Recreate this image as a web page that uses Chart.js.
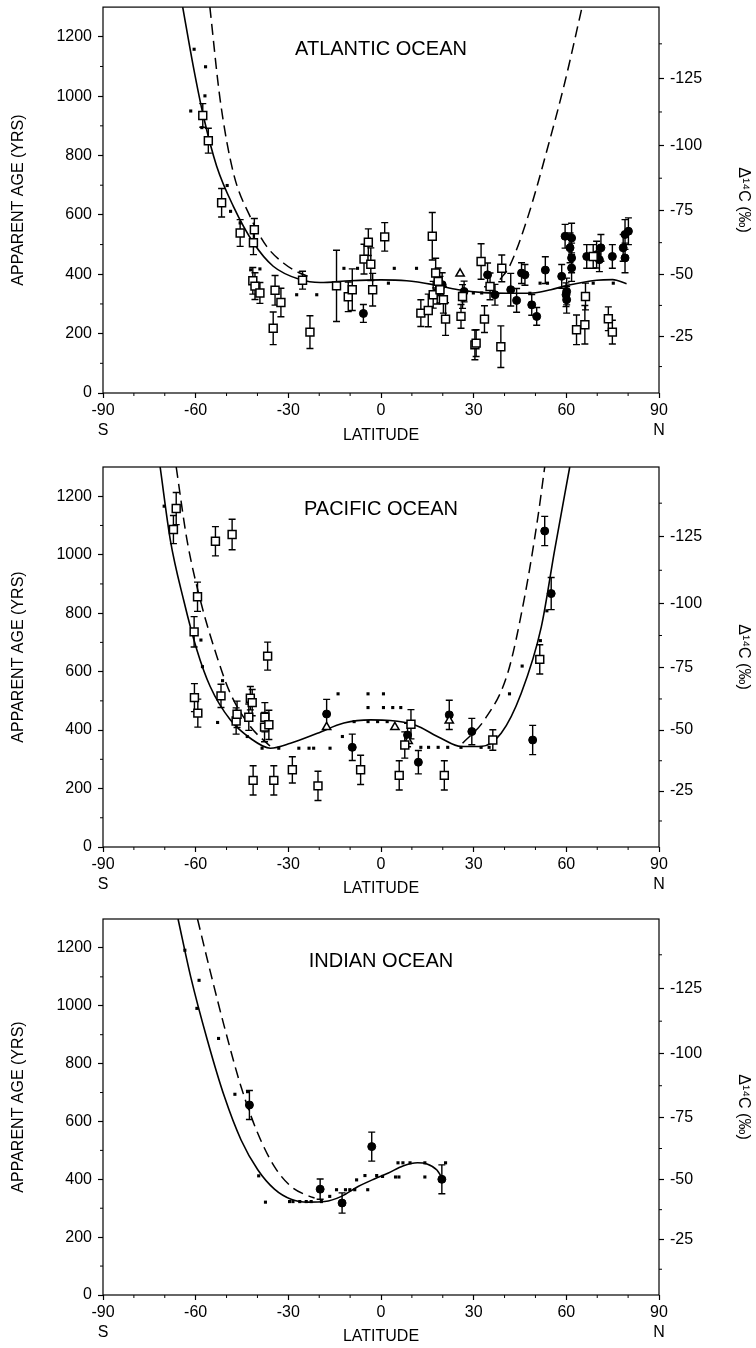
<!DOCTYPE html>
<html>
<head>
<meta charset="utf-8">
<title>Apparent age vs latitude</title>
<script src="https://cdn.jsdelivr.net/npm/chart.js@4.4.1/dist/chart.umd.min.js"></script>
<style>
    body { margin: 0; background: #fff; width: 756px; height: 1348px; position: relative; overflow: hidden; }
    canvas { position: absolute; left: 0; }
</style>
</head>
<body>
<canvas id="atlantic" width="756" height="455" style="top:0"></canvas>
<canvas id="pacific" width="756" height="450" style="top:455px"></canvas>
<canvas id="indian" width="756" height="443" style="top:905px"></canvas>
<script>
// axis ticks
const xTicks = [-90, -60, -30, 0, 30, 60, 90];
const xTickLabels = [['-90', 'S'], '-60', '-30', '0', '30', '60', ['90', 'N']];
const xMinorTicks = [-80, -70, -50, -40, -20, -10, 10, 20, 40, 50, 70, 80];
const ageTicks = [0, 200, 400, 600, 800, 1000, 1200];
const ageMinorTicks = [100, 300, 500, 700, 900, 1100];
const deltaTicks = [-25, -50, -75, -100, -125];
const deltaMinorTicks = [-12.5, -37.5, -62.5, -87.5, -112.5, -137.5];

// Atlantic: [latitude, age, error]
const atlSquares = [
    [-57.7, 935, 40], [-55.9, 850, 42], [-51.6, 641, 48], [-45.6, 539, 45], [-41.0, 550, 38],
    [-41.3, 506, 40], [-41.5, 378, 45], [-40.8, 360, 45], [-39.2, 337, 35], [-34.3, 346, 50],
    [-32.4, 305, 48], [-34.9, 218, 55], [-25.4, 380, 30], [-23.0, 205, 55], [-14.4, 361, 120],
    [-10.6, 324, 50], [-9.3, 348, 70], [-5.5, 451, 50], [-4.1, 508, 45], [-3.3, 434, 55],
    [-2.7, 348, 55], [1.2, 526, 48], [12.9, 269, 45], [15.3, 278, 55], [16.6, 528, 80],
    [16.9, 331, 45], [17.7, 404, 50], [18.5, 376, 45], [19.1, 348, 45], [20.2, 314, 45],
    [20.9, 249, 55], [25.9, 258, 40], [26.4, 325, 40], [30.4, 162, 50], [30.8, 168, 45],
    [32.4, 443, 60], [33.5, 249, 45], [35.3, 359, 45], [38.8, 156, 70], [39.1, 420, 45],
    [63.3, 213, 50], [66.0, 230, 65], [66.2, 325, 45], [68.7, 460, 40], [73.6, 250, 40],
    [74.9, 205, 40]
];
const atlCircles = [
    [-5.7, 268, 30], [18.2, 340, 40], [19.8, 365, 40], [26.9, 342, 35], [34.5, 398, 40],
    [36.9, 331, 35], [42.0, 348, 55], [43.9, 312, 40], [45.5, 404, 35], [46.6, 398, 35],
    [48.8, 297, 35], [50.4, 258, 30], [53.2, 414, 45], [58.5, 393, 40], [59.6, 528, 40],
    [59.9, 331, 40], [60.1, 342, 45], [60.1, 314, 45], [61.2, 489, 50], [61.7, 522, 50],
    [61.7, 455, 50], [61.7, 421, 45], [66.6, 460, 40], [69.8, 466, 45], [70.7, 449, 40],
    [71.2, 489, 45], [74.9, 460, 40], [78.4, 489, 45], [79.0, 534, 50], [79.0, 455, 50],
    [80.1, 545, 45]
];
const atlTriangles = [[25.6, 402]];
const atlDots = [
    [-61.6, 950], [-60.5, 1158], [-58.0, 894], [-57.0, 1001], [-56.8, 1099], [-49.8, 699],
    [-48.7, 612], [-45.6, 573], [-42.2, 415], [-39.2, 418], [-27.3, 331], [-20.8, 331],
    [-12.0, 420], [-7.6, 420], [2.4, 370], [4.3, 420], [11.5, 420], [29.9, 337], [32.6, 337],
    [48.2, 336], [51.5, 370], [53.9, 370], [68.7, 370], [75.2, 370]
];
const atlSolid = [
    [-64.2, 1300], [-60.8, 1102], [-57.5, 933], [-53.2, 764], [-47.8, 629], [-41.3, 506],
    [-34.9, 427], [-26.2, 382], [-19.7, 372], [-10, 378], [0, 381], [8.3, 378], [16.9, 365],
    [25, 348], [33.1, 338], [41, 336], [49.2, 337], [55, 348], [60.1, 362], [69.8, 380],
    [75, 382], [79.5, 368]
];
const atlDashedS = [[-55.4, 1300], [-52.1, 990], [-47.8, 742], [-42.4, 595], [-37.0, 494], [-31.6, 438], [-26.5, 405], [-21.9, 387]];
const atlDashedN = [[38.5, 382], [41.6, 427], [47.6, 595], [54.1, 832], [59.5, 1046], [65.1, 1300]];

// Pacific
const pacSquares = [
    [-67.2, 1086, 48], [-66.3, 1158, 55], [-60.5, 736, 52], [-60.4, 511, 48], [-59.4, 856, 50],
    [-59.3, 458, 48], [-53.6, 1046, 50], [-51.8, 517, 40], [-48.2, 1069, 52], [-46.9, 431, 45],
    [-46.6, 454, 45], [-42.8, 444, 45], [-42.3, 509, 40], [-41.7, 494, 45], [-41.4, 228, 50],
    [-37.7, 410, 50], [-37.6, 444, 50], [-36.7, 653, 48], [-36.3, 418, 50], [-34.7, 228, 50],
    [-28.7, 264, 45], [-20.4, 209, 50], [-6.6, 264, 50], [5.9, 245, 50], [7.7, 349, 45],
    [9.7, 420, 50], [20.5, 245, 50], [36.2, 366, 35], [51.4, 642, 50]
];
const pacCircles = [
    [-17.6, 455, 50], [-9.3, 341, 45], [8.6, 383, 40], [12.1, 290, 40], [22.1, 452, 50],
    [29.4, 395, 45], [49.1, 366, 50], [53.0, 1081, 50], [55.1, 867, 55]
];
const pacTriangles = [[-17.6, 410], [4.5, 410], [8.8, 362], [22.1, 432]];
const pacDots = [
    [-70.2, 1166], [-58.3, 708], [-57.8, 617], [-52.9, 426], [-51.3, 569], [-43.3, 378],
    [-38.5, 338], [-33.1, 338], [-26.6, 338], [-23.3, 338], [-21.8, 338], [-16.5, 338],
    [-13.9, 524], [-12.5, 378], [-8.7, 429], [-4.2, 524], [-4.2, 477], [-4.2, 429], [-1.1, 429],
    [0.8, 524], [0.8, 477], [2.0, 429], [3.8, 477], [6.4, 477], [12.9, 341], [15.4, 341],
    [18.5, 341], [21.6, 341], [25.9, 341], [32.4, 341], [35.0, 341], [41.6, 524], [45.7, 619],
    [51.6, 706], [53.7, 808]
];
const pacSolid = [
    [-71.5, 1300], [-68.2, 1050], [-63.9, 845], [-59.6, 674], [-55.3, 549], [-48.8, 435],
    [-42.3, 372], [-35.8, 338], [-29.3, 355], [-20.6, 389], [-12.0, 424], [-3.3, 435], [3, 433],
    [10.8, 418], [19.4, 372], [25.9, 344], [32.4, 344], [38.9, 389], [45.4, 526], [51.9, 753],
    [56.2, 1015], [61.1, 1300]
];
const pacDashedS = [[-66.3, 1300], [-62.8, 1050], [-58.5, 845], [-53.1, 651], [-48.8, 526], [-42.3, 412], [-35.8, 344]];
const pacDashedN = [[26.4, 355], [33.5, 435], [41.0, 594], [46.5, 856], [50.8, 1129], [53.0, 1300]];

// Indian
const indCircles = [[-42.6, 657, 50], [-19.7, 366, 35], [-12.6, 318, 35], [-3.0, 513, 50], [19.7, 400, 50]];
const indDots = [
    [-63.5, 1192], [-59.6, 991], [-58.9, 1088], [-52.6, 887], [-47.3, 694], [-43.2, 703],
    [-39.6, 412], [-37.4, 321], [-29.6, 323], [-28.5, 323], [-26.3, 323], [-24.2, 323],
    [-22.6, 323], [-19.3, 323], [-16.6, 341], [-14.4, 364], [-11.5, 364], [-10.1, 364],
    [-8.5, 364], [-7.9, 398], [-5.2, 413], [-4.3, 364], [-1.4, 413], [0.5, 410], [4.7, 408],
    [5.8, 408], [5.5, 457], [7.1, 457], [9.4, 457], [14.2, 457], [14.2, 408], [20.9, 457]
];
const indSolid = [
    [-65.7, 1300], [-61.6, 1100], [-56.2, 881], [-50.7, 686], [-45.3, 536], [-39.9, 433],
    [-34.5, 366], [-29.1, 331], [-23.6, 321], [-18.2, 323], [-12.8, 341], [-7.4, 375],
    [-2.0, 402], [2.4, 422], [7.1, 446], [11.8, 457], [14.9, 453], [18.1, 432], [20.0, 400]
];
const indDashed = [[-59.4, 1300], [-55.1, 1111], [-50.7, 927], [-45.3, 720], [-39.9, 559], [-34.5, 444], [-29.1, 375], [-23.1, 341], [-21.5, 335]];

const FONT = '"Liberation Sans", Arial, Helvetica, sans-serif';
Chart.defaults.font.family = FONT;
Chart.defaults.color = '#000';

// right axis: delta14C drawn at the matching apparent age
function deltaToAge(d) {
    return -8033 * Math.log(1 + d / 1000) - 12;
}

function toXY(arr) {
    return arr.map(p => ({ x: p[0], y: p[1] }));
}

// error bars under the markers
const errorBars = {
    id: 'errorBars',
    beforeDatasetsDraw(chart) {
        const ctx = chart.ctx;
        const y = chart.scales.y;
        ctx.save();
        ctx.strokeStyle = '#000';
        ctx.lineWidth = 1.4;
        chart.data.datasets.forEach((ds, i) => {
            if (!ds.errors) return;
            chart.getDatasetMeta(i).data.forEach((pt, j) => {
                const v = ds.data[j].y;
                const top = y.getPixelForValue(v + ds.errors[j]);
                const bot = y.getPixelForValue(v - ds.errors[j]);
                ctx.beginPath();
                ctx.moveTo(pt.x, top); ctx.lineTo(pt.x, bot);
                ctx.moveTo(pt.x - 3.5, top); ctx.lineTo(pt.x + 3.5, top);
                ctx.moveTo(pt.x - 3.5, bot); ctx.lineTo(pt.x + 3.5, bot);
                ctx.stroke();
            });
        });
        ctx.restore();
    }
};

// frame, minor ticks and the ocean name
const panelDecor = {
    id: 'panelDecor',
    afterDraw(chart, args, opts) {
        const { ctx, chartArea: a } = chart;
        const { x, y, y2 } = chart.scales;
        ctx.save();
        ctx.strokeStyle = '#000';
        ctx.lineWidth = 1.2;
        ctx.strokeRect(a.left, a.top, a.right - a.left, a.bottom - a.top);

        ctx.lineWidth = 1;
        ctx.beginPath();
        xMinorTicks.forEach(v => {
            const px = x.getPixelForValue(v);
            ctx.moveTo(px, a.bottom); ctx.lineTo(px, a.bottom + 3);
        });
        ageMinorTicks.forEach(v => {
            const py = y.getPixelForValue(v);
            ctx.moveTo(a.left, py); ctx.lineTo(a.left - 3, py);
        });
        deltaMinorTicks.forEach(d => {
            const py = y2.getPixelForValue(deltaToAge(d));
            ctx.moveTo(a.right, py); ctx.lineTo(a.right + 3, py);
        });
        ctx.stroke();

        ctx.fillStyle = '#000';
        ctx.font = '20px ' + FONT;
        ctx.textAlign = 'center';
        ctx.textBaseline = 'middle';
        ctx.fillText(opts.text, (a.left + a.right) / 2, a.top + 42);
        ctx.restore();
    }
};

function makePanel(id, p) {
    const datasets = [];
    if (p.squares) datasets.push({
        data: toXY(p.squares), errors: p.squares.map(s => s[2]),
        pointStyle: 'rect', pointRadius: 5.6, pointBackgroundColor: '#fff',
        pointBorderColor: '#000', pointBorderWidth: 1.5, order: 0
    });
    if (p.triangles) datasets.push({
        data: toXY(p.triangles),
        pointStyle: 'triangle', pointRadius: 4.8, pointBackgroundColor: '#fff',
        pointBorderColor: '#000', pointBorderWidth: 1.5, order: 0
    });
    if (p.circles) datasets.push({
        data: toXY(p.circles), errors: p.circles.map(s => s[2]),
        pointStyle: 'circle', pointRadius: 4, pointBackgroundColor: '#000',
        pointBorderColor: '#000', pointBorderWidth: 1, order: 0
    });
    datasets.push({
        data: toXY(p.dots),
        pointStyle: 'rect', pointRadius: 2.2, pointBackgroundColor: '#000',
        pointBorderColor: '#000', pointBorderWidth: 0, order: 0
    });
    datasets.push({
        data: toXY(p.solid), showLine: true, pointRadius: 0,
        borderColor: '#000', borderWidth: 1.6, cubicInterpolationMode: 'monotone', order: 1
    });
    p.dashed.forEach(d => datasets.push({
        data: toXY(d), showLine: true, pointRadius: 0, borderDash: [11, 6],
        borderColor: '#000', borderWidth: 1.5, cubicInterpolationMode: 'monotone', order: 1
    }));

    const grid = { drawOnChartArea: false, drawTicks: true, tickLength: 5, color: '#000', tickWidth: 1.2 };
    const tickFont = { family: FONT, size: 16, lineHeight: 1.25 };
    const titleFont = { family: FONT, size: 16 };

    new Chart(document.getElementById(id), {
        type: 'scatter',
        data: { datasets: datasets },
        options: {
            responsive: false,
            animation: false,
            events: [],
            layout: { padding: { top: p.padTop, left: 0, right: 0, bottom: 0 } },
            plugins: {
                legend: { display: false },
                tooltip: { enabled: false },
                panelDecor: { text: p.title }
            },
            scales: {
                x: {
                    type: 'linear', position: 'bottom', min: -90, max: 90,
                    afterBuildTicks: s => { s.ticks = xTicks.map(v => ({ value: v })); },
                    afterFit: s => { s.height = p.xAxisHeight; s.paddingLeft = 0; s.paddingRight = 0; },
                    ticks: { autoSkip: false, maxRotation: 0, padding: 2.5, font: tickFont,
                             callback: (v, i) => xTickLabels[i] },
                    grid: grid,
                    border: { display: false },
                    title: { display: true, text: 'LATITUDE', font: titleFont,
                             padding: { top: 0, bottom: p.xTitlePad } }
                },
                y: {
                    type: 'linear', position: 'left', min: 0, max: 1300,
                    afterBuildTicks: s => { s.ticks = ageTicks.map(v => ({ value: v })); },
                    afterFit: s => { s.width = 103; s.paddingTop = 0; s.paddingBottom = 0; },
                    ticks: { padding: 6, font: tickFont, callback: v => String(v) },
                    grid: grid,
                    border: { display: false },
                    title: { display: true, text: 'APPARENT AGE (YRS)', font: titleFont,
                             padding: { top: 9, bottom: 0 } }
                },
                y2: {
                    type: 'linear', position: 'right', min: 0, max: 1300,
                    afterBuildTicks: s => { s.ticks = deltaTicks.map(d => ({ value: deltaToAge(d) })); },
                    afterFit: s => { s.width = 97; s.paddingTop = 0; s.paddingBottom = 0; },
                    ticks: { padding: 6, font: tickFont, callback: (v, i) => String(deltaTicks[i]) },
                    grid: grid,
                    border: { display: false },
                    title: { display: true, text: 'Δ¹⁴C (‰)', font: titleFont,
                             padding: { top: 3, bottom: 0 } }
                }
            }
        },
        plugins: [errorBars, panelDecor]
    });
}

makePanel('atlantic', {
    title: 'ATLANTIC OCEAN', squares: atlSquares, circles: atlCircles, triangles: atlTriangles,
    dots: atlDots, solid: atlSolid, dashed: [atlDashedS, atlDashedN],
    padTop: 7, xAxisHeight: 62, xTitlePad: 9.4
});
makePanel('pacific', {
    title: 'PACIFIC OCEAN', squares: pacSquares, circles: pacCircles, triangles: pacTriangles,
    dots: pacDots, solid: pacSolid, dashed: [pacDashedS, pacDashedN],
    padTop: 12, xAxisHeight: 58, xTitlePad: 6.4
});
makePanel('indian', {
    title: 'INDIAN OCEAN', circles: indCircles,
    dots: indDots, solid: indSolid, dashed: [indDashed],
    padTop: 14, xAxisHeight: 53, xTitlePad: 1.4
});
</script>
</body>
</html>
